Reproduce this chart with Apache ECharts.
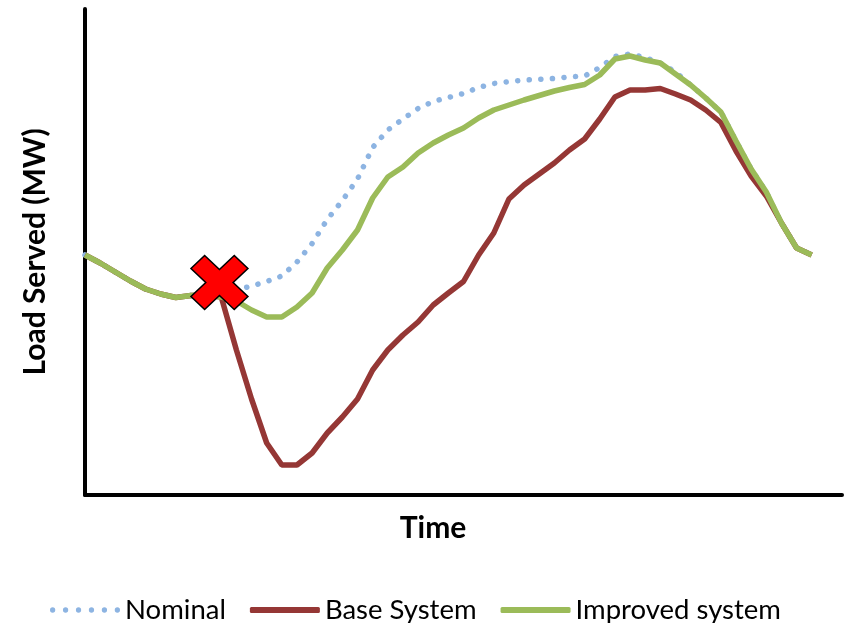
<!DOCTYPE html>
<html>
<head>
<meta charset="utf-8">
<script src="https://cdn.jsdelivr.net/npm/echarts@6/dist/echarts.min.js"></script>
<style>html,body{margin:0;padding:0;background:#fff}#c{width:846px;height:623px}</style>
</head>
<body>
<div id="c"></div>
<script>
const sharedStart = [240,232,223,214,206,201,197.5,199.5,200,198];
const nominalRest = [205,209,213.5,219,233,251.5,275.5,294.5,316,347.5,365,376,386.5,393.5,397.5,401.5,407.5,411.5,413.3,415,415.7,416.5,418,419,427.5,438.5,441,437.5,432,423,410,397,383,354,326,303,272,247,240];
const baseRest = [145,96,52,30,30,42,62,78,96,125,145,160,173,190,202,213.5,240,262,296,310,321,332,345,356,376,398,405,405,406.5,401,395,385,372.5,344,319,299,272,247,240];
const improvedRest = [194,185,178,178,188,202,227,245,265,297,318,328,342,352,360,367,377,385,390,395,399.5,404,407.5,410.5,420,436,439,435,432,421,410,397,383,354,326,303,272,247,240];
const nominal = sharedStart.concat(nominalRest);
const baseSystem = sharedStart.concat(baseRest);
const improvedSystem = sharedStart.concat(improvedRest);
const failurePoint = [8.88, 212.5];
const seriesNames = ['Nominal', 'Base System', 'Improved system'];

const toPairs = arr => arr.map((v, i) => [i, v]);
const FONT = 'Lato';

// dotted legend icon: 6 round dots
let dots = '';
for (let k = 0; k < 6; k++) {
  const cx = 3 + k * 12.8;
  dots += `M${cx - 2.6},3 A2.6,2.6 0 1,0 ${cx + 2.6},3 A2.6,2.6 0 1,0 ${cx - 2.6},3 Z `;
}
const dotIcon = 'path://' + dots;

const chart = echarts.init(document.getElementById('c'));
chart.setOption({
  animation: false,
  backgroundColor: '#fff',
  grid: { left: 85, right: 4, top: 9, bottom: 128 },
  xAxis: {
    type: 'value', min: 0, max: 50,
    name: 'Time', nameLocation: 'middle', nameGap: 18,
    nameTextStyle: { fontFamily: FONT, fontWeight: 'bold', fontSize: 30, color: '#000', padding: [0, 61, 0, 0], verticalAlign: 'top' },
    axisLine: { show: true, onZero: false, lineStyle: { color: '#000', width: 4 } },
    axisTick: { show: false }, axisLabel: { show: false }, splitLine: { show: false }
  },
  yAxis: {
    type: 'value', min: 0, max: 486,
    name: 'Load Served (MW)', nameLocation: 'middle', nameGap: 35, nameRotate: 90,
    nameTextStyle: { fontFamily: FONT, fontWeight: 'bold', fontSize: 30, color: '#000' },
    axisLine: { show: true, lineStyle: { color: '#000', width: 4 } },
    axisTick: { show: false }, axisLabel: { show: false }, splitLine: { show: false }
  },
  legend: {
    data: [
      { name: seriesNames[0], icon: dotIcon, itemStyle: { color: '#8DB4E2' } },
      { name: seriesNames[1], icon: 'roundRect', itemStyle: { color: '#953735' } },
      { name: seriesNames[2], icon: 'roundRect', itemStyle: { color: '#9BBB59' } }
    ],
    left: 45, top: 591,
    itemWidth: 70, itemHeight: 6, itemGap: 24,
    textStyle: { fontFamily: FONT, fontSize: 27.5, color: '#000' }
  },
  series: [
    { name: seriesNames[0], type: 'line', data: toPairs(nominal), symbol: 'none',
      lineStyle: { color: '#8DB4E2', width: 5.5, type: [0.1, 11.5], cap: 'round' }, itemStyle: { color: '#8DB4E2' }, z: 2 },
    { name: seriesNames[1], type: 'line', data: toPairs(baseSystem), symbol: 'none',
      lineStyle: { color: '#953735', width: 5.5 }, itemStyle: { color: '#953735' }, z: 3 },
    { name: seriesNames[2], type: 'line', data: toPairs(improvedSystem), symbol: 'none',
      lineStyle: { color: '#9BBB59', width: 5.5 }, itemStyle: { color: '#9BBB59' }, z: 4 },
    { name: 'failure', type: 'scatter', data: [failurePoint], z: 10,
      symbol: 'path://M0,24 L24,0 L50,26 L76,0 L100,24 L74,50 L100,76 L76,100 L50,74 L24,100 L0,76 L26,50 Z',
      symbolSize: [57, 54], itemStyle: { color: '#FF0000', borderColor: '#000', borderWidth: 1.5, opacity: 1 },
      silent: true }
  ]
});
</script>
</body>
</html>
